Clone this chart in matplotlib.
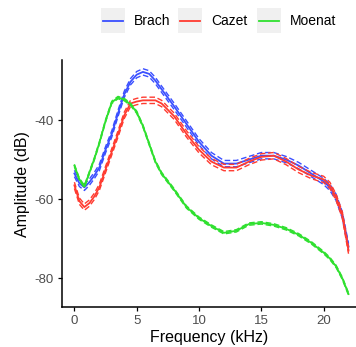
import matplotlib.pyplot as plt
from matplotlib.patches import Rectangle
from matplotlib.lines import Line2D
import numpy as np

plt.rcParams['font.family'] = ['Liberation Sans', 'DejaVu Sans']
plt.rcParams['axes.unicode_minus'] = False

# frequency grid (kHz)
freq = [0.0, 0.4, 0.8, 1.2, 1.6, 2.0, 2.5, 3.0, 3.5, 4.0, 4.5, 5.0, 5.5, 6.0,
        6.5, 7.0, 8.0, 9.0, 10.0, 11.0, 12.0, 13.0, 14.0, 15.0, 16.0, 17.0,
        18.0, 19.0, 20.0, 20.5, 21.0, 21.5, 22.0]

brach = [-53.5, -56.0, -57.0, -55.7, -54.0, -52.0, -47.5, -43.5, -38.3, -33.5,
         -30.3, -28.5, -27.8, -28.3, -30.0, -32.2, -36.5, -41.0, -45.5, -49.0,
         -51.0, -51.0, -50.0, -49.0, -49.0, -50.0, -51.5, -53.5, -55.5, -57.0,
         -59.5, -64.0, -72.0]
cazet = [-56.5, -60.5, -62.0, -61.0, -59.3, -57.0, -52.5, -48.0, -43.5, -38.8,
         -35.8, -35.3, -35.0, -35.0, -35.0, -35.8, -39.0, -43.5, -47.5, -50.5,
         -52.0, -52.0, -50.5, -49.3, -49.0, -50.5, -52.5, -54.0, -55.0, -56.5,
         -59.5, -64.0, -73.0]
moenat = [-51.5, -55.0, -56.8, -53.3, -49.8, -45.8, -40.2, -35.5, -34.3, -34.8,
          -36.0, -38.0, -41.5, -46.0, -50.5, -53.5, -57.6, -62.0, -64.8, -66.8,
          -68.5, -68.0, -66.3, -66.0, -66.5, -67.5, -69.0, -71.0, -73.5, -75.0,
          -77.0, -80.0, -84.0]

# half-width of the dashed confidence lines (dB)
brach_ci = 0.8
cazet_ci = 0.8
moenat_ci = 0.3

labels = ['Brach', 'Cazet', 'Moenat']
colors = ['#3a4fff', '#ff3b30', '#2fe02f']
series = [brach, cazet, moenat]
cis = [brach_ci, cazet_ci, moenat_ci]

fig = plt.figure(figsize=(3.56, 3.47), dpi=100)
ax = fig.add_axes([0.174, 0.115, 0.826, 0.712])

for y, ci, c in zip(series, cis, colors):
    y = np.array(y)
    ax.plot(freq, y, color=c, lw=1.3)
    ax.plot(freq, y + ci, color=c, lw=1.0, ls=(0, (4, 2)))
    ax.plot(freq, y - ci, color=c, lw=1.0, ls=(0, (4, 2)))

ax.set_xlim(-1.0, 22.6)
ax.set_ylim(-87.3, -24.8)
ax.set_xticks([0, 5, 10, 15, 20])
ax.set_yticks([-80, -60, -40])
for s in ['top', 'right']:
    ax.spines[s].set_visible(False)
for s in ['left', 'bottom']:
    ax.spines[s].set_linewidth(1.1)
ax.tick_params(colors='#4d4d4d', labelsize=9.5, length=3, width=0.9, pad=3)
ax.tick_params(axis='both', color='black')
ax.set_xlabel('Frequency (kHz)', fontsize=11.5, labelpad=2)
ax.set_ylabel('Amplitude (dB)', fontsize=11.5, labelpad=3)

# legend on top, drawn in figure pixels
W, H = 356, 347
key_x = [101, 178, 257]
for kx, lab, c in zip(key_x, labels, colors):
    fig.patches.append(Rectangle((kx / W, (H - 33) / H), 24 / W, 25 / H,
                                 transform=fig.transFigure, facecolor='#f0f0f0',
                                 edgecolor='none'))
    fig.lines.append(Line2D([(kx + 2) / W, (kx + 22) / W], [(H - 21) / H] * 2,
                            transform=fig.transFigure, color=c, lw=1.3))
    fig.text((kx + 33) / W, (H - 21) / H, lab, fontsize=10, va='center',
             ha='left')

fig.savefig('out.png', dpi=100)
